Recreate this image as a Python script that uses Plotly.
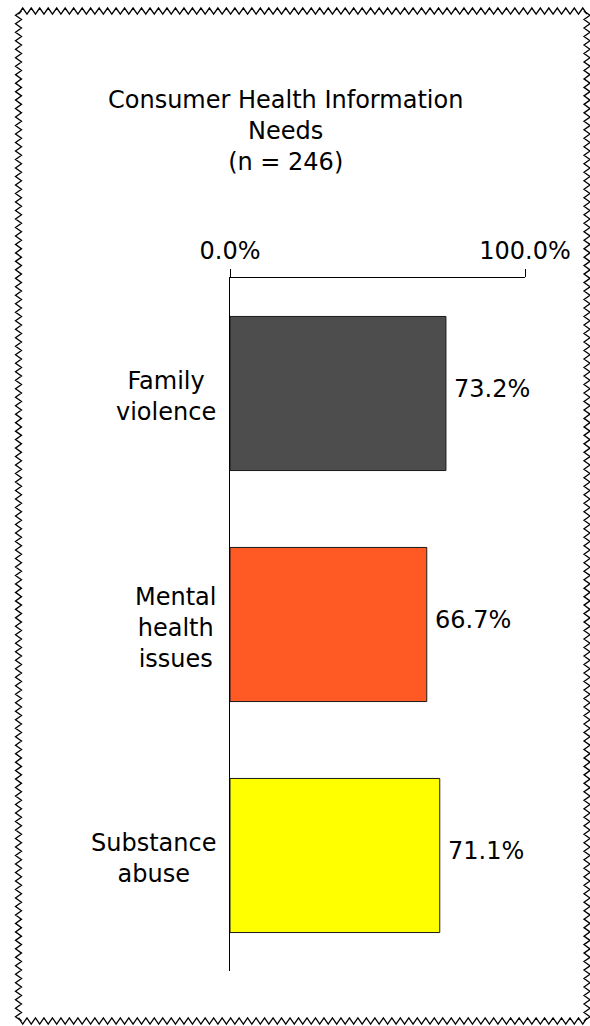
import numpy as np
import plotly.graph_objects as go

# Survey results
categories = ["Family<br>violence", "Mental<br>health<br>issues", "Substance<br>abuse"]
values = [73.2, 66.7, 71.1]
bar_colors = ["#4d4d4d", "#ff5a24", "#ffff00"]
tick_vals = [0, 100]
tick_text = ["0.0%", "100.0%"]
title_lines = ["Consumer Health Information", "Needs", "(n = 246)"]

W, H = 590, 1026
L, R, T, B = 230, 65, 278, 55
PW, PH = W - L - R, H - T - B
FONT = "DejaVu Sans"
FS = 24


def px(x):
    return (x - L) / PW


def py(y):
    return (H - B - y) / PH


fig = go.Figure()
fig.add_trace(go.Bar(
    y=list(range(len(categories))),
    x=values,
    orientation="h",
    marker=dict(color=bar_colors, line=dict(color="#1a1a1a", width=1)),
    width=0.667,
    hoverinfo="skip",
))

# Value labels to the right of each bar
for i, v in enumerate(values):
    fig.add_annotation(
        x=v, y=i, xref="x", yref="y", text=f"{v:.1f}%", showarrow=False,
        xanchor="left", yanchor="middle", xshift=6, yshift=5,
        font=dict(family=FONT, size=FS, color="#000000"),
    )

# Category labels, centred line by line
for i, c in enumerate(categories):
    fig.add_annotation(
        x=0, y=i, xref="x", yref="y", text=c, showarrow=False,
        xanchor="right", yanchor="middle", align="center",
        xshift=-12, yshift=-3,
        font=dict(family=FONT, size=FS, color="#000000"),
    )

# Title block
fig.add_annotation(
    x=px(285), y=py(84), xref="paper", yref="paper",
    text="<br>".join(title_lines), showarrow=False,
    xanchor="center", yanchor="top", align="center",
    font=dict(family=FONT, size=FS, color="#000000"),
)

# Zigzag frame around the figure
def zigzag(x0, y0, x1, y1, period=8.5, amp=6):
    length = np.hypot(x1 - x0, y1 - y0)
    n = max(int(round(length / (period / 2))), 1)
    dx, dy = (x1 - x0) / n, (y1 - y0) / n
    nx, ny = -(y1 - y0) / length, (x1 - x0) / length
    pts = []
    for k in range(n + 1):
        s = amp / 2 if k % 2 == 0 else -amp / 2
        pts.append((x0 + dx * k + nx * s, y0 + dy * k + ny * s))
    return pts

left, top, right, bottom = 18.5, 11, 587, 1021
pts = (zigzag(left, top, right, top) + zigzag(right, top, right, bottom)
       + zigzag(right, bottom, left, bottom) + zigzag(left, bottom, left, top))
path = "M " + " L ".join(f"{px(a):.5f},{py(b):.5f}" for a, b in pts) + " Z"
fig.add_shape(type="path", path=path, xref="paper", yref="paper",
              line=dict(color="#000000", width=1.3))

fig.update_layout(
    width=W, height=H,
    margin=dict(l=L, r=R, t=T, b=B, pad=0),
    paper_bgcolor="#ffffff", plot_bgcolor="#ffffff",
    showlegend=False,
    bargap=0.333,
    xaxis=dict(
        range=[0, 100], side="top", tickvals=tick_vals, ticktext=tick_text,
        ticks="outside", ticklen=8, tickcolor="#000000", tickwidth=1,
        showline=True, linecolor="#000000", linewidth=1,
        showgrid=False, zeroline=False, fixedrange=True,
        tickfont=dict(family=FONT, size=FS, color="#000000"),
    ),
    yaxis=dict(
        range=[2.5, -0.5], showticklabels=False, ticks="",
        showline=True, linecolor="#000000", linewidth=1,
        showgrid=False, zeroline=False, fixedrange=True,
    ),
)

fig.write_html("out.html")
